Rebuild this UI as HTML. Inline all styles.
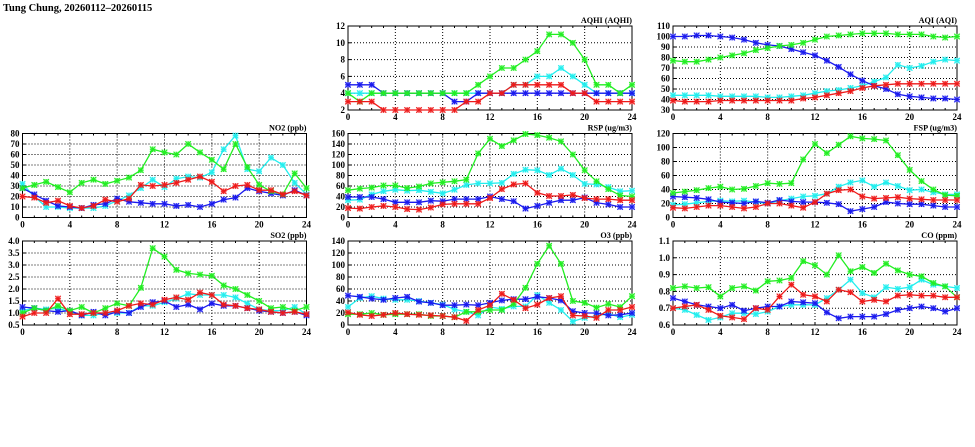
<!DOCTYPE html>
<html><head><meta charset="utf-8"><style>
html,body{margin:0;padding:0;background:#fff;}
svg{display:block;}
text{font-family:"Liberation Serif",serif;font-weight:bold;fill:#000;}
</style></head><body>
<svg id="c" width="975" height="447" viewBox="0 0 975 447">
<text x="3" y="11" font-size="10.5">Tung Chung, 20260112–20260115</text>
</svg>
<script>
const hours = [0,1,2,3,4,5,6,7,8,9,10,11,12,13,14,15,16,17,18,19,20,21,22,23,24];
const xTicks = [0,4,8,12,16,20,24];

const aqhiGreen=[4,3,4,4,4,4,4,4,4,4,4,5,6,7,7,8,9,11,11,10,8,5,5,4,5];
const aqhiCyan=[4,4,4,4,4,4,4,4,4,4,4,4,4,4,5,5,6,6,7,6,5,4,4,4,4];
const aqhiBlue=[5,5,5,4,4,4,4,4,4,3,3,4,4,4,4,4,4,4,4,4,4,4,4,4,4];
const aqhiRed=[3,3,3,2,2,2,2,2,2,2,3,3,4,4,5,5,5,5,5,4,4,3,3,3,3];
const aqhiTicks=[2,4,6,8,10,12];

const aqiGreen=[77,76,76,78,80,82,84,87,89,91,92,94,97,100,101,102,103,103,103,102,102,102,100,99,100];
const aqiCyan=[44,44,44,44,43,43,43,43,42,42,43,44,46,48,49,51,53,57,61,73,70,72,76,78,77];
const aqiBlue=[100,100,101,101,100,99,97,94,92,91,88,85,82,77,71,64,58,53,50,45,43,42,41,41,40];
const aqiRed=[39,38,38,38,39,39,39,39,39,39,39,41,42,44,46,48,51,53,54,55,55,55,55,55,55];
const aqiTicks=[30,40,50,60,70,80,90,100,110];

const no2Green=[28,31,34,29,24,33,36,32,35,38,45,65,62,60,70,62,55,46,70,48,31,25,22,42,28];
const no2Cyan=[32,20,10,10,9,9,9,11,16,21,28,36,29,37,39,38,43,65,78,46,44,57,50,33,22];
const no2Blue=[28,22,16,11,10,9,12,13,18,15,14,13,13,11,12,10,13,17,19,28,25,23,21,26,21];
const no2Red=[20,19,14,16,11,9,11,17,15,18,31,30,31,33,36,39,34,25,30,31,26,26,22,25,21];
const no2Ticks=[0,10,20,30,40,50,60,70,80];

const rspGreen=[52,55,57,61,61,56,59,65,67,69,72,122,150,136,147,159,157,152,145,120,90,69,54,42,40];
const rspCyan=[33,34,44,50,53,51,52,49,46,53,62,65,65,66,83,91,90,81,93,81,64,63,58,50,51];
const rspBlue=[39,39,39,35,29,29,29,32,31,35,35,35,40,35,31,17,22,28,33,33,38,28,25,20,20];
const rspRed=[18,17,20,22,20,16,15,19,25,26,26,26,37,54,63,65,47,41,41,43,37,35,35,33,33];
const rspTicks=[0,20,40,60,80,100,120,140,160];

const fspGreen=[35,37,39,42,44,40,41,45,49,48,49,83,105,92,104,116,113,112,110,89,68,52,40,32,31];
const fspCyan=[18,19,21,23,24,23,24,22,20,24,27,30,31,34,44,50,53,44,50,45,39,40,36,33,33];
const fspBlue=[30,29,28,26,22,21,20,23,21,25,23,22,22,21,19,9,12,15,22,20,19,19,17,15,15];
const fspRed=[14,13,15,17,17,15,13,15,20,20,17,14,22,34,39,40,30,27,28,29,27,26,25,25,25];
const fspTicks=[0,20,40,60,80,100,120];

const so2Green=[1.0,1.2,1.1,1.3,1.1,1.25,1.0,1.2,1.4,1.3,2.05,3.7,3.35,2.8,2.65,2.6,2.55,2.15,2.0,1.75,1.5,1.2,1.25,1.1,1.25];
const so2Cyan=[1.1,1.2,1.15,1.2,1.05,0.9,0.9,1.0,1.0,1.0,1.3,1.3,1.45,1.6,1.8,1.75,1.75,1.75,1.65,1.4,1.15,1.1,1.1,1.25,0.95];
const so2Blue=[1.25,1.2,1.1,1.05,1.1,0.9,1.05,0.9,1.05,1.0,1.25,1.45,1.5,1.25,1.35,1.15,1.4,1.3,1.3,1.2,1.1,1.05,1.0,1.05,0.9];
const so2Red=[0.85,1.0,1.0,1.6,0.95,0.95,1.0,1.0,1.1,1.3,1.4,1.35,1.55,1.65,1.55,1.85,1.75,1.35,1.3,1.2,1.15,1.05,1.0,1.05,0.95];
const so2Ticks=[0.5,1.0,1.5,2.0,2.5,3.0,3.5,4.0];

const o3Green=[18,18,20,17,18,18,18,15,15,13,22,22,25,25,35,62,102,132,102,40,37,29,35,30,48];
const o3Cyan=[30,45,48,44,42,42,40,37,34,26,22,16,30,27,31,31,50,37,25,6,12,15,19,13,17];
const o3Blue=[49,47,44,42,45,47,39,37,33,33,34,33,37,41,43,43,47,45,41,23,20,20,16,17,20];
const o3Red=[21,17,15,17,20,18,17,16,15,13,7,25,33,52,42,28,34,45,48,16,15,12,25,25,30];
const o3Ticks=[0,20,40,60,80,100,120,140];

const coGreen=[0.82,0.83,0.82,0.825,0.77,0.82,0.83,0.805,0.86,0.865,0.88,0.98,0.955,0.9,1.015,0.92,0.945,0.91,0.965,0.925,0.9,0.89,0.85,0.83,0.765];
const coCyan=[0.70,0.69,0.66,0.63,0.645,0.67,0.67,0.665,0.68,0.71,0.72,0.72,0.72,0.76,0.81,0.87,0.79,0.765,0.825,0.815,0.825,0.87,0.84,0.83,0.82];
const coBlue=[0.76,0.74,0.72,0.71,0.70,0.72,0.685,0.70,0.71,0.71,0.74,0.735,0.73,0.675,0.64,0.65,0.65,0.65,0.665,0.69,0.70,0.71,0.70,0.68,0.70];
const coRed=[0.70,0.71,0.72,0.69,0.655,0.645,0.635,0.70,0.69,0.77,0.84,0.78,0.77,0.74,0.81,0.795,0.74,0.75,0.74,0.775,0.78,0.775,0.775,0.765,0.765];
const coTicks=[0.6,0.7,0.8,0.9,1.0,1.1];

const NS="http://www.w3.org/2000/svg";
const svg=document.getElementById('c');
function mk(tag,attrs,parent){const e=document.createElementNS(NS,tag);for(const k in attrs)e.setAttribute(k,attrs[k]);(parent||svg).appendChild(e);return e;}

const colors={cyan:"#22eeee",blue:"#1a1aee",green:"#22ee22",red:"#ee1a1a"};

function panel(key,title,L,T,series,ticks,dec){
  const W=284,H=84,R=L+W,B=T+H;
  const ymin=ticks[0],ymax=ticks[ticks.length-1];
  const xs=h=>L+h/24*W;
  const ys=v=>B-(v-ymin)/(ymax-ymin)*H;
  const g=mk('g',{});
  
  
  ticks.forEach(t=>{
    const y=ys(t);
    if(t!==ymin&&t!==ymax){const l=mk('line',{x1:L,x2:R,y1:y,y2:y,stroke:'#000','stroke-width':1,'stroke-dasharray':'1,2'},g);
      }
    const tx=mk('text',{x:L-3,y:y+3,'font-size':9,'text-anchor':'end'},g);
    tx.textContent=dec?t.toFixed(1):t;
    
    mk('line',{x1:L,x2:L+3,y1:y,y2:y,stroke:'#000'},g);
  });
  xTicks.forEach(t=>{
    const x=xs(t);
    if(t!==0&&t!==24){const l=mk('line',{x1:x,x2:x,y1:T,y2:B,stroke:'#000','stroke-width':1,'stroke-dasharray':'1,2'},g);
      }
    const tx=mk('text',{x:x,y:B+10,'font-size':9,'text-anchor':'middle'},g);
    tx.textContent=t;
    
  });
  hours.forEach(h=>{const x=xs(h);mk('line',{x1:x,x2:x,y1:B,y2:B-2,stroke:'#000'},g);mk('line',{x1:x,x2:x,y1:T,y2:T+2,stroke:'#000'},g);});
  const fr=mk('rect',{x:L,y:T,width:W,height:H,fill:'none',stroke:'#000','stroke-width':1},g);
  
  const tt=mk('text',{x:R,y:T-3,'font-size':8.2,'text-anchor':'end'},g);
  tt.textContent=title;
  
  series.forEach(([cname,vals])=>{
    const c=colors[cname];
    const sg=mk('g',{},g);
    
    
    const pts=vals.map((v,i)=>xs(hours[i]).toFixed(1)+','+ys(v).toFixed(1)).join(' ');
    mk('polyline',{points:pts,fill:'none',stroke:c,'stroke-width':1.3},sg);
    vals.forEach((v,i)=>{
      const x=xs(hours[i]),y=ys(v),s=2.8;
      const m=mk('path',{d:`M${x-s},${y-s}h${2*s}v${2*s}h${-2*s}z`,fill:c,'fill-opacity':0.35,stroke:'none'},sg);
      
      
      mk('path',{d:`M${x-s},${y-s}L${x+s},${y+s}M${x-s},${y+s}L${x+s},${y-s}M${x},${y-s}V${y+s}M${x-s},${y}H${x+s}`,stroke:c,'stroke-width':1},sg);
    });
  });
}
const C=[22.5,348,673], Rw=[26,133.5,241];
panel('aqhi','AQHI (AQHI)',C[1],Rw[0],[['cyan',aqhiCyan],['blue',aqhiBlue],['green',aqhiGreen],['red',aqhiRed]],aqhiTicks,false);
panel('aqi','AQI (AQI)',C[2],Rw[0],[['cyan',aqiCyan],['blue',aqiBlue],['green',aqiGreen],['red',aqiRed]],aqiTicks,false);
panel('no2','NO2 (ppb)',C[0],Rw[1],[['cyan',no2Cyan],['blue',no2Blue],['green',no2Green],['red',no2Red]],no2Ticks,false);
panel('rsp','RSP (ug/m3)',C[1],Rw[1],[['cyan',rspCyan],['blue',rspBlue],['green',rspGreen],['red',rspRed]],rspTicks,false);
panel('fsp','FSP (ug/m3)',C[2],Rw[1],[['cyan',fspCyan],['blue',fspBlue],['green',fspGreen],['red',fspRed]],fspTicks,false);
panel('so2','SO2 (ppb)',C[0],Rw[2],[['cyan',so2Cyan],['blue',so2Blue],['green',so2Green],['red',so2Red]],so2Ticks,true);
panel('o3','O3 (ppb)',C[1],Rw[2],[['cyan',o3Cyan],['blue',o3Blue],['green',o3Green],['red',o3Red]],o3Ticks,false);
panel('co','CO (ppm)',C[2],Rw[2],[['cyan',coCyan],['blue',coBlue],['green',coGreen],['red',coRed]],coTicks,true);
</script>
</body></html>
